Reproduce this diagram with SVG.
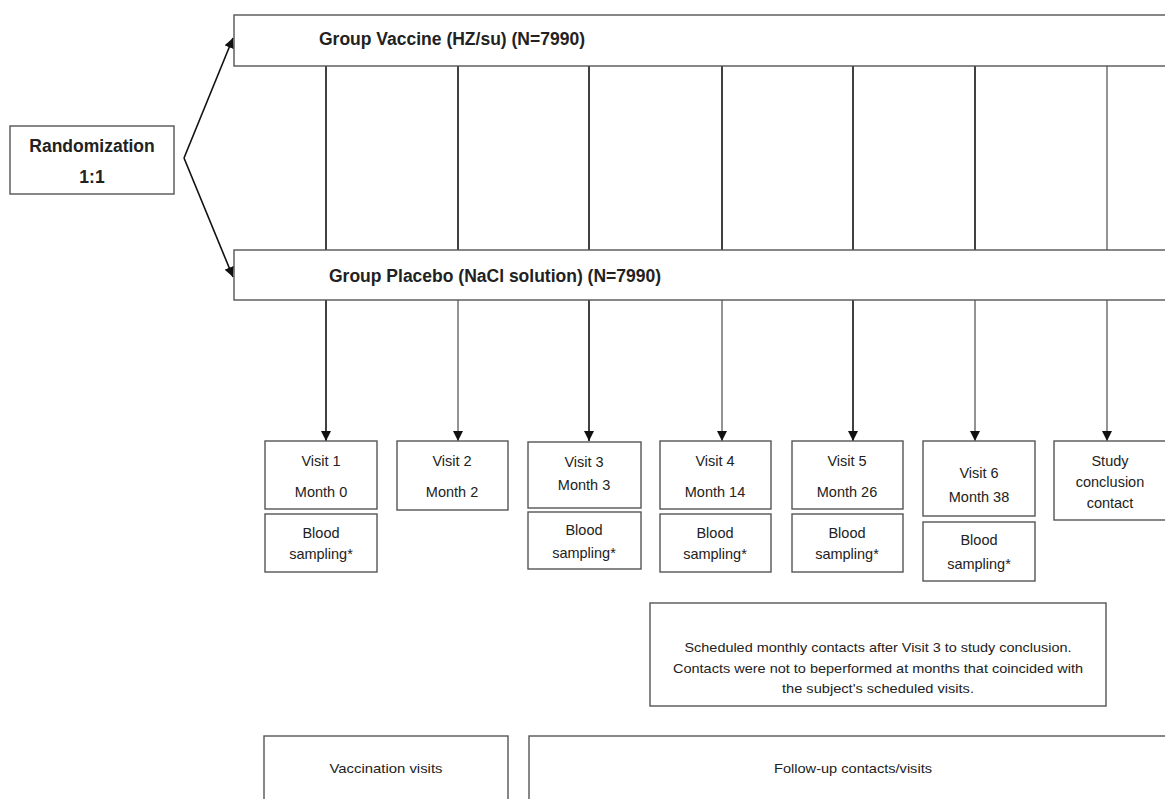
<svg xmlns="http://www.w3.org/2000/svg" width="1165" height="799" viewBox="0 0 1165 799">
<defs>
<style>
.box{fill:#fff;stroke:#555;stroke-width:1.4}
.t{font-family:"Liberation Sans",Arial,sans-serif;font-size:14.5px;fill:#222;text-anchor:middle}
.tb{font-family:"Liberation Sans",Arial,sans-serif;font-size:17.5px;font-weight:bold;fill:#222}
.s{font-family:"Liberation Sans",Arial,sans-serif;font-size:13px;fill:#222;text-anchor:middle}
.lk{stroke:#111;stroke-width:1.6;fill:none}
.lg{stroke:#888;stroke-width:1.8;fill:none}
</style>
<marker id="ah" markerUnits="userSpaceOnUse" markerWidth="10" markerHeight="10" refX="10" refY="5" orient="auto">
<path d="M0,0 L10,5 L0,10 z" fill="#111"/>
</marker>
</defs>
<rect width="1165" height="799" fill="#fff"/>

<g id="connectors">
<line class="lk" x1="184" y1="158" x2="233" y2="38" marker-end="url(#ah)"/>
<line class="lk" x1="184" y1="158" x2="233" y2="277" marker-end="url(#ah)"/>
<line class="lk" x1="326" y1="66" x2="326" y2="250"/>
<line class="lk" x1="458" y1="66" x2="458" y2="250"/>
<line class="lk" x1="589" y1="66" x2="589" y2="250"/>
<line class="lk" x1="722" y1="66" x2="722" y2="250"/>
<line class="lk" x1="853" y1="66" x2="853" y2="250"/>
<line class="lk" x1="975" y1="66" x2="975" y2="250"/>
<line class="lg" x1="1107" y1="66" x2="1107" y2="250"/>
<line class="lk" x1="326" y1="300" x2="326" y2="441" marker-end="url(#ah)"/>
<line class="lg" x1="458" y1="300" x2="458" y2="441" marker-end="url(#ah)"/>
<line class="lk" x1="589" y1="300" x2="589" y2="441" marker-end="url(#ah)"/>
<line class="lg" x1="722" y1="300" x2="722" y2="441" marker-end="url(#ah)"/>
<line class="lk" x1="853" y1="300" x2="853" y2="441" marker-end="url(#ah)"/>
<line class="lg" x1="975" y1="300" x2="975" y2="441" marker-end="url(#ah)"/>
<line class="lg" x1="1107" y1="300" x2="1107" y2="441" marker-end="url(#ah)"/>
</g>

<g id="randomization">
<rect class="box" x="10" y="126" width="164" height="68"/>
<text class="tb" x="92" y="152" text-anchor="middle">Randomization</text>
<text class="tb" x="92" y="183" text-anchor="middle">1:1</text>
</g>

<g id="group-vaccine">
<rect class="box" x="234" y="15" width="940" height="51"/>
<text class="tb" x="319" y="45">Group Vaccine (HZ/su) (N=7990)</text>
</g>

<g id="group-placebo">
<rect class="box" x="234" y="250" width="940" height="50"/>
<text class="tb" x="329" y="282">Group Placebo (NaCl solution) (N=7990)</text>
</g>

<g id="visit1">
<rect class="box" x="265" y="441" width="112" height="68"/>
<text class="t" x="321" y="466">Visit 1</text>
<text class="t" x="321" y="497">Month 0</text>
</g>
<g id="blood1">
<rect class="box" x="265" y="514" width="112" height="58"/>
<text class="t" x="321" y="538">Blood</text>
<text class="t" x="321" y="559">sampling*</text>
</g>

<g id="visit2">
<rect class="box" x="397" y="441" width="111" height="69"/>
<text class="t" x="452" y="466">Visit 2</text>
<text class="t" x="452" y="497">Month 2</text>
</g>

<g id="visit3">
<rect class="box" x="528" y="442" width="113" height="66"/>
<text class="t" x="584" y="467">Visit 3</text>
<text class="t" x="584" y="490">Month 3</text>
</g>
<g id="blood3">
<rect class="box" x="528" y="512" width="113" height="57"/>
<text class="t" x="584" y="535">Blood</text>
<text class="t" x="584" y="558">sampling*</text>
</g>

<g id="visit4">
<rect class="box" x="660" y="441" width="111" height="68"/>
<text class="t" x="715" y="466">Visit 4</text>
<text class="t" x="715" y="497">Month 14</text>
</g>
<g id="blood4">
<rect class="box" x="660" y="514" width="111" height="58"/>
<text class="t" x="715" y="538">Blood</text>
<text class="t" x="715" y="559">sampling*</text>
</g>

<g id="visit5">
<rect class="box" x="792" y="441" width="111" height="68"/>
<text class="t" x="847" y="466">Visit 5</text>
<text class="t" x="847" y="497">Month 26</text>
</g>
<g id="blood5">
<rect class="box" x="792" y="514" width="111" height="58"/>
<text class="t" x="847" y="538">Blood</text>
<text class="t" x="847" y="559">sampling*</text>
</g>

<g id="visit6">
<rect class="box" x="923" y="441" width="112" height="75"/>
<text class="t" x="979" y="478">Visit 6</text>
<text class="t" x="979" y="502">Month 38</text>
</g>
<g id="blood6">
<rect class="box" x="923" y="522" width="112" height="59"/>
<text class="t" x="979" y="545">Blood</text>
<text class="t" x="979" y="569">sampling*</text>
</g>

<g id="study-conclusion">
<rect class="box" x="1054" y="441" width="113" height="79"/>
<text class="t" x="1110" y="466">Study</text>
<text class="t" x="1110" y="487">conclusion</text>
<text class="t" x="1110" y="508">contact</text>
</g>

<g id="monthly-contacts">
<rect class="box" x="650" y="603" width="456" height="103"/>
<text class="s" x="878" y="652" textLength="387" lengthAdjust="spacingAndGlyphs">Scheduled monthly contacts after Visit 3 to study conclusion.</text>
<text class="s" x="878" y="673" textLength="410" lengthAdjust="spacingAndGlyphs">Contacts were not to beperformed at months that coincided with</text>
<text class="s" x="878" y="693" textLength="192" lengthAdjust="spacingAndGlyphs">the subject's scheduled visits.</text>
</g>

<g id="vaccination-visits">
<rect class="box" x="264" y="736" width="244" height="80"/>
<text class="s" x="386" y="773" textLength="113" lengthAdjust="spacingAndGlyphs">Vaccination visits</text>
</g>

<g id="follow-up">
<rect class="box" x="529" y="736" width="650" height="80"/>
<text class="s" x="853" y="773" textLength="158" lengthAdjust="spacingAndGlyphs">Follow-up contacts/visits</text>
</g>
</svg>
